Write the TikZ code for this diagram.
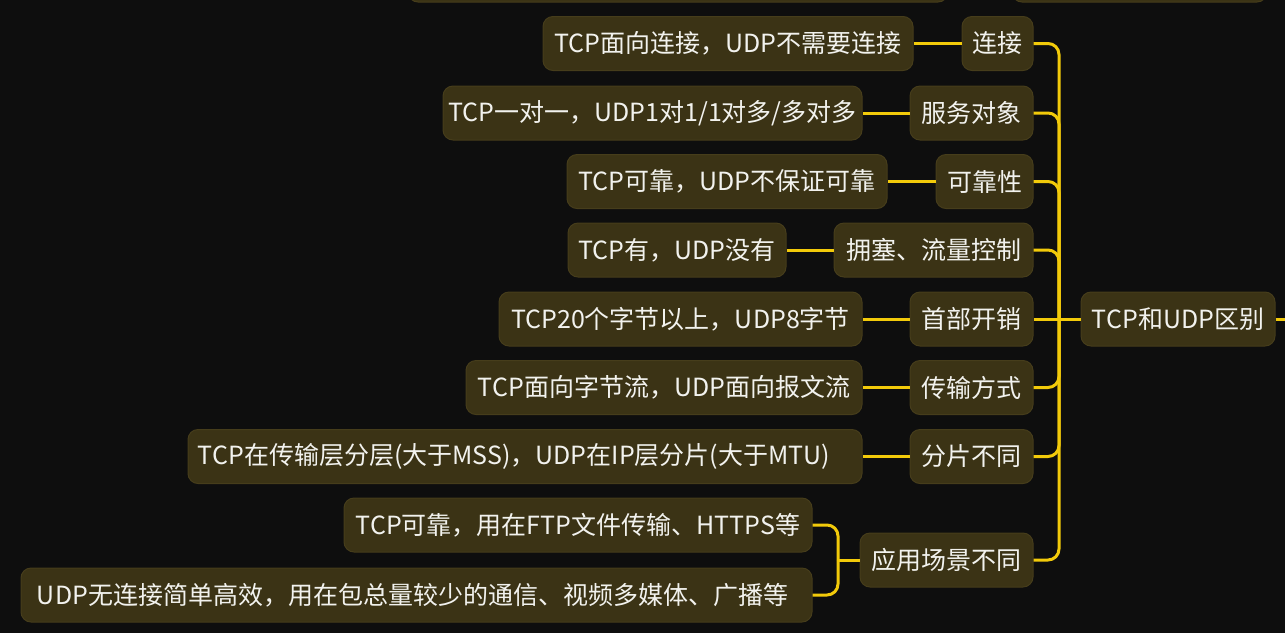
\documentclass[tikz,border=0pt]{standalone}
\usepackage{fontspec}
\setmainfont{Noto Sans CJK SC}
\definecolor{bgc}{HTML}{0E0E0E}
\definecolor{nodefill}{HTML}{3B3315}
\definecolor{nodeline}{HTML}{463D1B}
\definecolor{branchc}{HTML}{F2CA0A}
\definecolor{txtc}{HTML}{F2F2EE}
\tikzset{
  box/.style={rectangle, rounded corners=10pt, fill=nodefill, draw=nodeline, line width=1pt,
    text=txtc, minimum height=54pt, inner sep=0pt, font=\fontsize{25}{30}\selectfont},
  link/.style={draw=branchc, line width=3pt},
  curvelink/.style={draw=branchc, line width=3pt, rounded corners=11pt},
}
\begin{document}
\begin{tikzpicture}[x=1pt,y=-1pt]
\useasboundingbox (0,0) rectangle (1285,633);
\fill[bgc] (0,0) rectangle (1285,633);
\clip (0,0) rectangle (1285,633);
% partly visible nodes at the top
\node[box, minimum width=540pt] (p1) at (678,-25) {};
\node[box, minimum width=255pt] (p2) at (1139.5,-25) {};
% root
\node[box, minimum width=194pt] (root) at (1178,319) {TCP和UDP区别};
% level 1
\node[box, minimum width=71pt]  (c1) at (997.5,43.5) {连接};
\node[box, minimum width=123pt] (c2) at (971.5,113) {服务对象};
\node[box, minimum width=97pt]  (c3) at (984.5,181.5) {可靠性};
\node[box, minimum width=199pt] (c4) at (933.5,250) {拥塞、流量控制};
\node[box, minimum width=123pt] (c5) at (971.5,319) {首部开销};
\node[box, minimum width=123pt] (c6) at (971.5,387.5) {传输方式};
\node[box, minimum width=123pt] (c7) at (971.5,456.5) {分片不同};
\node[box, minimum width=173pt] (c8) at (946.5,560) {应用场景不同};
% level 2
\node[box, minimum width=370pt] (d1) at (728,43.5) {TCP面向连接，UDP不需要连接};
\node[box, minimum width=419pt] (d2) at (652.5,113) {TCP一对一，UDP1对1/1对多/多对多};
\node[box, minimum width=320pt] (d3) at (727,181.5) {TCP可靠，UDP不保证可靠};
\node[box, minimum width=218pt] (d4) at (677,250) {TCP有，UDP没有};
\node[box, minimum width=363pt] (d5) at (680.5,319) {TCP20个字节以上，UDP8字节};
\node[box, minimum width=396pt] (d6) at (664,387.5) {TCP面向字节流，UDP面向报文流};
\node[box, minimum width=674pt] (d7) at (525,456.5) {TCP在传输层分层(大于MSS)，UDP在IP层分片(大于MTU)\hspace*{22pt}};
\node[box, minimum width=468pt] (d8a) at (578,525) {TCP可靠，用在FTP文件传输、HTTPS等};
\node[box, minimum width=791pt] (d8b) at (416.5,595) {UDP无连接简单高效，用在包总量较少的通信、视频多媒体、广播等\hspace*{8pt}};
% trunk
\coordinate (tr) at (1059,319);
\coordinate (out) at (1285,319);
\draw[link] (root.west) -- (tr);
\draw[link] (root.east) -- (out);
\draw[curvelink] (tr) |- (c1.east);
\draw[curvelink] (tr) |- (c2.east);
\draw[curvelink] (tr) |- (c3.east);
\draw[curvelink] (tr) |- (c4.east);
\draw[link] (tr) -- (c5.east);
\draw[curvelink] (tr) |- (c6.east);
\draw[curvelink] (tr) |- (c7.east);
\draw[curvelink] (tr) |- (c8.east);
% level 1 to level 2
\draw[link] (c1.west) -- (d1.east);
\draw[link] (c2.west) -- (d2.east);
\draw[link] (c3.west) -- (d3.east);
\draw[link] (c4.west) -- (d4.east);
\draw[link] (c5.west) -- (d5.east);
\draw[link] (c6.west) -- (d6.east);
\draw[link] (c7.west) -- (d7.east);
\coordinate (b8) at (838,560);
\draw[link] (c8.west) -- (b8);
\draw[curvelink] (b8) |- (d8a.east);
\draw[curvelink] (b8) |- (d8b.east);
\end{tikzpicture}
\end{document}
